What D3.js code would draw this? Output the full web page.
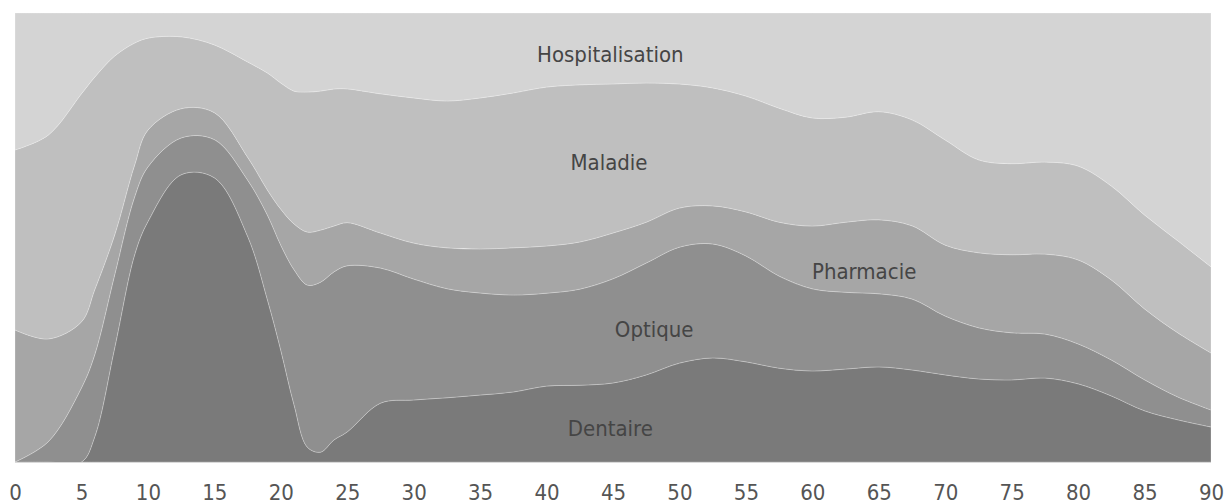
<!DOCTYPE html>
<html>
<head>
<meta charset="utf-8">
<script src="https://cdn.jsdelivr.net/npm/d3@7"></script>
<style>
    html, body { margin: 0; padding: 0; background: #fff; }
    svg { display: block; }
    text { font-family: "DejaVu Sans Condensed", "DejaVu Sans", sans-serif; }
</style>
</head>
<body>
<svg id="chart" width="1227" height="504"></svg>
<script>
/*
    Répartition des dépenses par poste selon l'âge (aires empilées, 100 %).
*/

var ages = [0, 2.5, 5, 6, 7.5, 9, 10, 12.5, 15, 17.5, 19, 20, 21, 22, 23, 24, 25,
    27.5, 30, 32.5, 35, 37.5, 40, 42.5, 45, 47.5, 50, 52.5, 55, 57.5, 60, 62.5,
    65, 67.5, 70, 72.5, 75, 77.5, 80, 82.5, 85, 87.5, 90];

var dentaire = [0, 0, 0, 5.6, 25.4, 46.1, 53.5, 63.9, 63.3, 50.3, 36.1, 24.9,
    12.7, 3.3, 2.2, 4.9, 6.7, 13.1, 13.8, 14.3, 14.9, 15.6, 16.9, 17.1, 17.6,
    19.4, 22.0, 23.2, 22.3, 20.9, 20.3, 20.7, 21.2, 20.5, 19.4, 18.5, 18.3, 18.7,
    17.4, 14.7, 11.4, 9.4, 7.8];

var optique = [0, 4.5, 16.5, 18.3, 16.3, 12.9, 12.2, 8.2, 8.5, 12.5, 18.9, 23.4,
    30.1, 36.1, 37.9, 37.4, 37.0, 30.1, 26.9, 24.3, 22.7, 21.6, 20.7, 21.4, 23.2,
    24.9, 25.8, 25.4, 23.6, 20.5, 18.3, 17.1, 16.3, 15.8, 13.1, 11.4, 10.5, 9.8,
    8.9, 8.0, 6.9, 5.1, 3.8];

var pharmacie = [29.4, 22.9, 14.7, 14.5, 8.9, 7.1, 8.2, 6.5, 6.0, 5.1, 5.6, 8.0,
    10.2, 11.8, 11.6, 10.2, 9.6, 7.8, 8.0, 9.1, 9.8, 10.5, 10.5, 10.5, 10.2, 9.1,
    8.7, 8.5, 9.8, 12.0, 14.0, 15.6, 16.5, 16.3, 15.8, 16.7, 17.4, 17.8, 18.7,
    17.8, 15.8, 14.3, 12.7];

var maladie = [40.1, 45.4, 50.8, 47.4, 39.9, 27.2, 20.5, 16.0, 15.1, 21.2, 26.1,
    28.1, 29.6, 31.2, 31.0, 30.5, 29.8, 31.0, 32.3, 32.7, 33.6, 34.5, 35.4, 35.0,
    33.2, 31.0, 27.6, 26.3, 25.8, 25.4, 24.1, 23.4, 24.1, 23.6, 23.4, 20.7, 20.3,
    20.5, 20.9, 20.9, 20.9, 20.5, 19.2];

var hospitalisation = [30.5, 27.2, 18.0, 14.3, 9.6, 6.7, 5.6, 5.3, 7.1, 10.9,
    13.4, 15.6, 17.4, 17.6, 17.4, 16.9, 16.9, 18.0, 18.9, 19.6, 18.9, 17.8, 16.5,
    16.0, 15.8, 15.6, 15.8, 16.7, 18.5, 21.2, 23.4, 23.2, 22.0, 23.8, 28.3, 32.7,
    33.6, 33.2, 34.1, 38.5, 45.0, 50.8, 56.6];

var series = ["Dentaire", "Optique", "Pharmacie", "Maladie", "Hospitalisation"];
var colors = ["#7a7a7a", "#8f8f8f", "#a6a6a6", "#bfbfbf", "#d4d4d4"];
var xTicks = d3.range(0, 91, 5);

// position des étiquettes : [âge, part cumulée au centre du libellé]
var labelPos = {
    "Hospitalisation": [44.8, 90.8],
    "Maladie": [44.7, 66.7],
    "Pharmacie": [63.9, 42.5],
    "Optique": [48.1, 29.6],
    "Dentaire": [44.8, 7.5]
};

var rows = ages.map(function(a, i) {
    return {
        age: a,
        Dentaire: dentaire[i],
        Optique: optique[i],
        Pharmacie: pharmacie[i],
        Maladie: maladie[i],
        Hospitalisation: hospitalisation[i]
    };
});

var margin = {left: 15, right: 16, top: 13, bottom: 42};
var width = 1227, height = 504;

var svg = d3.select("#chart");

var x = d3.scaleLinear()
    .domain([0, 90])
    .range([margin.left, width - margin.right]);

var y = d3.scaleLinear()
    .domain([0, 1])
    .range([height - margin.bottom, margin.top]);

svg.append("defs").append("clipPath")
    .attr("id", "plot-clip")
    .append("rect")
        .attr("x", x(0))
        .attr("y", y(1))
        .attr("width", x(90) - x(0))
        .attr("height", y(0) - y(1));

var stack = d3.stack()
    .keys(series)
    .offset(d3.stackOffsetExpand);

var layers = stack(rows);

var area = d3.area()
    .curve(d3.curveCatmullRom.alpha(0.5))
    .x(function(d) { return x(d.data.age); })
    .y0(function(d) { return y(d[0]); })
    .y1(function(d) { return y(d[1]); });

svg.append("g")
    .attr("clip-path", "url(#plot-clip)")
    .selectAll("path")
    .data(layers)
    .enter().append("path")
        .attr("d", area)
        .attr("fill", function(d, i) { return colors[i]; })
        .attr("stroke", "rgba(255,255,255,0.3)")
        .attr("stroke-width", 0.8);

// ligne de base
svg.append("line")
    .attr("x1", x(0))
    .attr("x2", x(90))
    .attr("y1", y(0) + 0.5)
    .attr("y2", y(0) + 0.5)
    .attr("stroke", "#d9d9d9")
    .attr("stroke-width", 1);

// axe des âges
var xAxis = d3.axisBottom(x)
    .tickValues(xTicks)
    .tickSize(0)
    .tickPadding(0);

var gx = svg.append("g")
    .attr("transform", "translate(0," + (height - 4) + ")")
    .call(xAxis);

gx.select(".domain").remove();
gx.selectAll("text")
    .attr("dy", 0)
    .attr("y", 0)
    .attr("fill", "#555")
    .style("font-size", "22px");

// libellés des séries
svg.append("g")
    .selectAll("text")
    .data(series)
    .enter().append("text")
        .attr("x", function(d) { return x(labelPos[d][0]); })
        .attr("y", function(d) { return y(labelPos[d][1] / 100); })
        .attr("dy", "0.36em")
        .attr("text-anchor", "middle")
        .attr("fill", "#454545")
        .style("font-size", "22px")
        .text(function(d) { return d; });
</script>
</body>
</html>
